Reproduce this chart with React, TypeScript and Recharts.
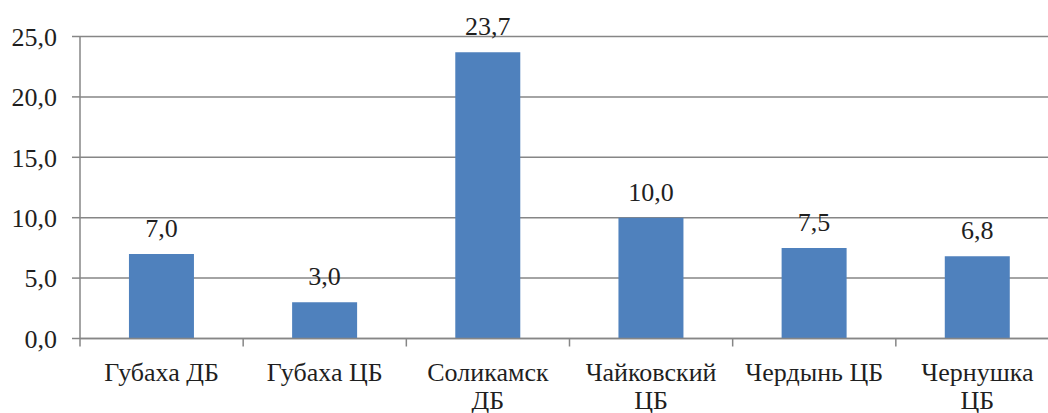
import { BarChart, Bar, XAxis, YAxis, CartesianGrid, LabelList } from 'recharts'

const categories = ['Губаха ДБ', 'Губаха ЦБ', 'Соликамск\nДБ', 'Чайковский\nЦБ', 'Чердынь ЦБ', 'Чернушка\nЦБ']
const values = [7.0, 3.0, 23.7, 10.0, 7.5, 6.8]
const yTicks = [0, 5, 10, 15, 20, 25]

const data = categories.map((name, i) => ({ name, value: values[i] }))

const FONT = '"Times New Roman", Times, "DejaVu Serif", serif'
const AXIS = '#868686'
const TEXT = '#1f1f1f'

const fmt = (v: number) => v.toFixed(1).replace('.', ',')

// category label, plus a tick mark at the left edge of each band
function CategoryTick(props: any) {
  const { x, y, payload } = props
  const half = payload?.offset ?? 0
  const lines = String(payload.value).split('\n')
  return (
    <g>
      <line x1={x - half} x2={x - half} y1={y} y2={y + 8} stroke={AXIS} strokeWidth={1.5} />
      <text x={x} y={y + 42} textAnchor="middle" fill={TEXT} style={{ fontFamily: FONT, fontSize: 26 }}>
        {lines.map((l, i) => (
          <tspan key={i} x={x} dy={i === 0 ? 0 : 28}>
            {l}
          </tspan>
        ))}
      </text>
    </g>
  )
}

export default function App() {
  return (
    <div style={{ position: 'absolute', left: 0, top: 0, width: 1048, height: 413, overflow: 'hidden', background: '#fff', fontFamily: FONT }}>
      <BarChart
        width={1060}
        height={413}
        data={data}
        margin={{ top: 36.5, right: 1, left: 0, bottom: 0 }}
        barCategoryGap="30%"
        style={{ fontFamily: FONT }}
      >
        <CartesianGrid vertical={false} stroke={AXIS} strokeWidth={1.5} />
        <XAxis
          dataKey="name"
          interval={0}
          height={74.5}
          tickLine={false}
          tickSize={0}
          tickMargin={0}
          axisLine={{ stroke: AXIS, strokeWidth: 1.5 }}
          tick={<CategoryTick />}
        />
        <YAxis
          width={80}
          domain={[0, 25]}
          ticks={yTicks}
          tickFormatter={fmt}
          tickSize={8}
          tickMargin={15}
          axisLine={{ stroke: AXIS, strokeWidth: 1.5 }}
          tickLine={{ stroke: AXIS, strokeWidth: 1.5 }}
          tick={{ fill: TEXT, fontSize: 26, style: { fontFamily: FONT } }}
        />
        <Bar dataKey="value" fill="#4F81BD" isAnimationActive={false}>
          <LabelList
            dataKey="value"
            position="top"
            offset={17}
            formatter={(v: any) => fmt(Number(v))}
            fill={TEXT}
            fontSize={26}
            style={{ fontFamily: FONT }}
          />
        </Bar>
      </BarChart>
    </div>
  )
}
